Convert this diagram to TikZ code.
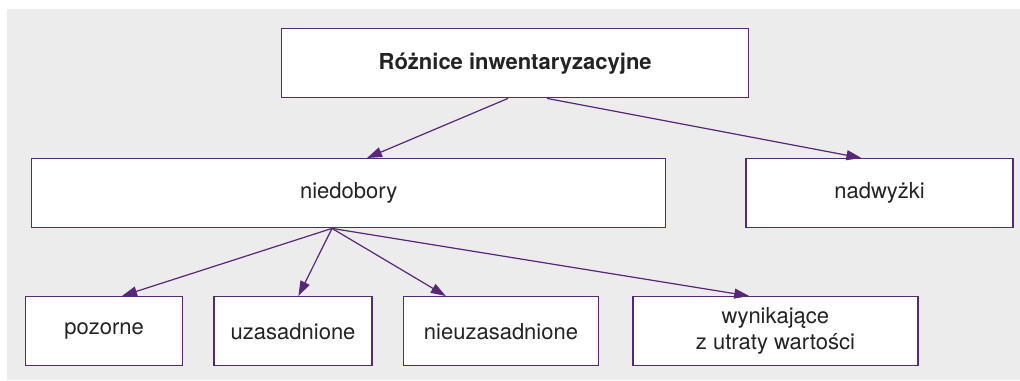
\documentclass[tikz,border=0pt]{standalone}
\usepackage{fontspec}
\setmainfont{TeX Gyre Heros}
\usetikzlibrary{arrows.meta, positioning}

\definecolor{linia}{RGB}{88,40,120}
\definecolor{tlo}{RGB}{236,236,236}
\definecolor{tekst}{RGB}{35,35,35}

\begin{document}
\begin{tikzpicture}[
    x=0.5pt, y=0.5pt,
    node distance=15pt,
    box/.style={rectangle, draw=linia, fill=white, line width=0.7pt, inner sep=0pt, minimum height=34.5pt, text=tekst, font=\fontsize{11}{13}\selectfont, align=center},
    arrow/.style={-{Triangle[length=7.5pt, width=5pt]}, line width=0.6pt, draw=linia, fill=linia}
]
    \useasboundingbox (0,0) rectangle (1020,-380);
    \fill[tlo] (7,-9) rectangle (1020,-380);

    \node[box, anchor=north west, minimum width=233.5pt] (roznice) at (281,-28) {\textbf{Różnice inwentaryzacyjne}};
    \node[box, anchor=north west, minimum width=317pt] (niedobory) at (31,-158) {niedobory};
    \node[box, right=39.5pt of niedobory, minimum width=133.5pt] (nadwyzki) {nadwyżki};

    \node[box, anchor=north west, minimum width=78.5pt] (pozorne) at (25,-296) {pozorne};
    \node[box, right=of pozorne, minimum width=79pt] (uzasadnione) {uzasadnione};
    \node[box, right=of uzasadnione, minimum width=97.5pt] (nieuzasadnione) {nieuzasadnione};
    \node[box, right=16.5pt of nieuzasadnione, minimum width=142.5pt] (utrata) {wynikające\\z utraty wartości};

    \coordinate (rozgalezienie) at ([xshift=150.5pt]niedobory.south west);

    \draw[arrow] ([xshift=113.5pt]roznice.south west) -- ([xshift=168pt]niedobory.north west);
    \draw[arrow] ([xshift=133pt]roznice.south west) -- ([xshift=58pt]nadwyzki.north west);
    \draw[arrow] (rozgalezienie) -- ([xshift=48.5pt]pozorne.north west);
    \draw[arrow] (rozgalezienie) -- ([xshift=42.5pt]uzasadnione.north west);
    \draw[arrow] (rozgalezienie) -- ([xshift=21.5pt]nieuzasadnione.north west);
    \draw[arrow] (rozgalezienie) -- ([xshift=58.5pt]utrata.north west);
\end{tikzpicture}
\end{document}
